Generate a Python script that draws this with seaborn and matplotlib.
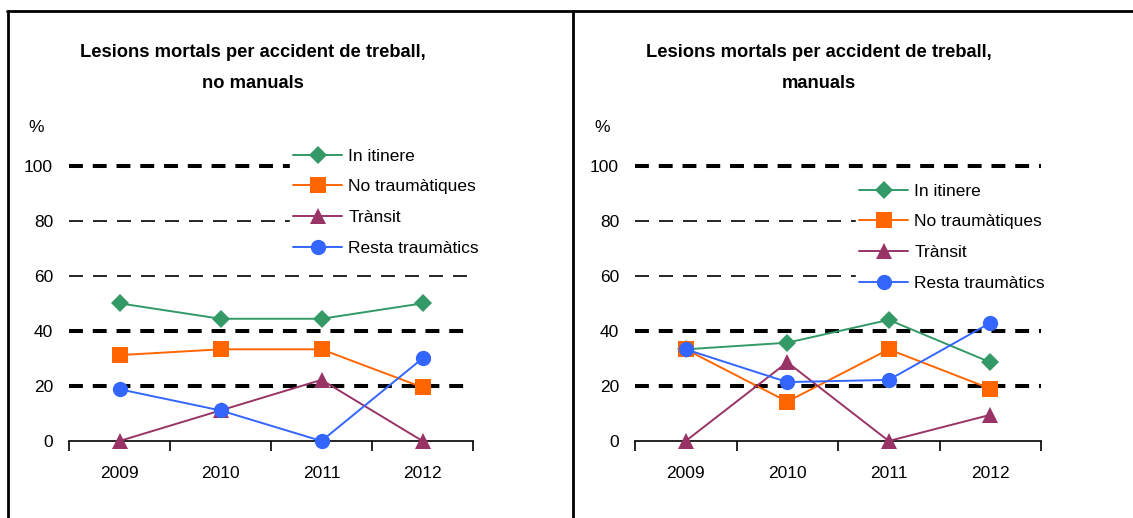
import numpy as np
import pandas as pd
import matplotlib.pyplot as plt
import seaborn as sns
from matplotlib.lines import Line2D

sns.set_theme(style="white")
plt.rcParams['font.family'] = ['Liberation Sans Narrow', 'Liberation Sans', 'DejaVu Sans']
plt.rcParams['text.color'] = 'black'
plt.rcParams['xtick.color'] = 'black'
plt.rcParams['ytick.color'] = 'black'

# data (% of fatal work accidents)
years = ["2009", "2010", "2011", "2012"]
series_names = ["In itinere", "No traumàtiques", "Trànsit", "Resta traumàtics"]

no_manuals_itinere = [50.0, 44.4, 44.4, 50.0]
no_manuals_notrauma = [31.2, 33.3, 33.3, 19.5]
no_manuals_transit = [0.0, 11.1, 22.2, 0.0]
no_manuals_resta = [18.8, 11.1, 0.0, 30.0]

manuals_itinere = [33.3, 35.7, 44.0, 28.6]
manuals_notrauma = [33.3, 14.3, 33.3, 19.0]
manuals_transit = [0.0, 28.6, 0.0, 9.5]
manuals_resta = [33.3, 21.4, 22.2, 42.9]

titles = ["Lesions mortals per accident de treball,\nno manuals",
          "Lesions mortals per accident de treball,\nmanuals"]
yticks = [0, 20, 40, 60, 80, 100]

colors = ["#339966", "#FF6600", "#993366", "#3366FF"]
markers = ["D", "s", "^", "o"]
msizes = [9, 11, 11, 11]


def make_df(vals):
    rows = []
    for name, v in zip(series_names, vals):
        for i, y in enumerate(v):
            rows.append({"any": i, "serie": name, "pct": y})
    return pd.DataFrame(rows)


panels = [
    make_df([no_manuals_itinere, no_manuals_notrauma, no_manuals_transit, no_manuals_resta]),
    make_df([manuals_itinere, manuals_notrauma, manuals_transit, manuals_resta]),
]

W, H = 1133, 518
fig = plt.figure(figsize=(W / 100, H / 100), dpi=100)

# axes positions in pixels: (left, right)
ax_x = [(69, 473), (635, 1041)]
y0_px, y100_px = 441, 165.7
legend_pos = [(290, 145), (856, 180)]  # top-left of legend in px
title_x = [253, 819]

for k, df in enumerate(panels):
    l, r = ax_x[k]
    ax = fig.add_axes([l / W, (H - y0_px) / H, (r - l) / W, (y0_px - y100_px) / H])
    ax.set_xlim(-0.5, 3.5)
    ax.set_ylim(0, 100)

    # dashed gridlines (heavy at 100/40/20, light at 80/60)
    for yv in [20, 40, 60, 80, 100]:
        if yv in (20, 40, 100):
            ax.axhline(yv, color="black", lw=2.9, dashes=(3.45, 2.45),
                       zorder=1, clip_on=False)
        else:
            ax.axhline(yv, color="black", lw=1.2, dashes=(8.4, 6.0),
                       zorder=1, clip_on=False)

    for name, c, m, ms in zip(series_names, colors, markers, msizes):
        d = df[df["serie"] == name]
        sns.lineplot(data=d, x="any", y="pct", ax=ax, color=c, marker=m,
                     markersize=ms, markeredgewidth=0, linewidth=1.4,
                     label=name, clip_on=False, zorder=3)

    for s in ["top", "right", "left"]:
        ax.spines[s].set_visible(False)
    ax.spines["bottom"].set_color("black")
    ax.spines["bottom"].set_linewidth(1.2)
    ax.spines["bottom"].set_zorder(2)

    ax.set_xticks(range(4))
    ax.set_xticklabels(years, fontsize=12.5)
    ax.set_xticks([-0.5, 0.5, 1.5, 2.5, 3.5], minor=True)
    ax.tick_params(axis="x", which="major", length=0, pad=18)
    ax.tick_params(axis="x", which="minor", length=7, width=1.2, color="black",
                   direction="out", bottom=True)
    ax.set_yticks(yticks)
    ax.set_yticklabels([str(t) for t in yticks], fontsize=12.5)
    ax.tick_params(axis="y", length=0, pad=11.5)
    ax.set_xlabel("")
    ax.set_ylabel("")

    lx, ly = legend_pos[k]
    leg = ax.legend(loc="upper left", bbox_to_anchor=(lx / W, 1 - ly / H),
                    bbox_transform=fig.transFigure, frameon=True, framealpha=1,
                    edgecolor="white", fontsize=12.5, handlelength=2.8,
                    handletextpad=0.35, labelspacing=0.9, borderpad=0.2,
                    borderaxespad=0)
    leg.set_zorder(2)

    fig.text(title_x[k] / W, 1 - 44 / H, titles[k], ha="center", va="top",
             fontsize=13.2, fontweight="bold", linespacing=2.05)
    fig.text((36 + 566 * k) / W, 1 - 128 / H, "%", ha="center", va="center",
             fontsize=12.5)

# outer frame
frame = dict(color="black", lw=2, transform=fig.transFigure)
fig.add_artist(Line2D([7.5 / W, 7.5 / W], [0, 1 - 11 / H], **frame))
fig.add_artist(Line2D([572.5 / W, 572.5 / W], [0, 1 - 11 / H], **frame))
fig.add_artist(Line2D([7 / W, 1], [1 - 11 / H, 1 - 11 / H], **frame))

fig.savefig("out.png", dpi=100)
